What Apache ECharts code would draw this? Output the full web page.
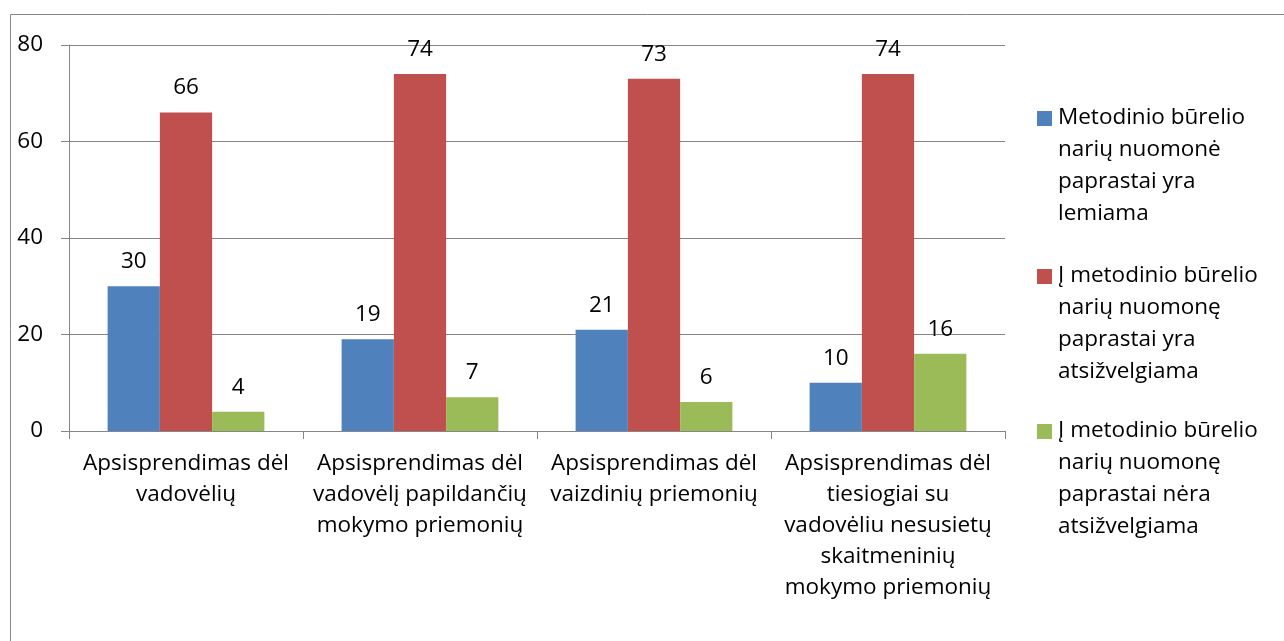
<!DOCTYPE html>
<html>
<head>
<meta charset="utf-8">
<title>Metodinio būrelio narių nuomonė</title>
<script src="https://cdn.jsdelivr.net/npm/echarts@6/dist/echarts.min.js"></script>
<style>
  html, body { margin: 0; padding: 0; background: #fff; }
  #chart { width: 1284px; height: 641px; }
</style>
</head>
<body>
<div id="chart"></div>
<script>
// kategorijos (x ašis)
const categories = [
  'Apsisprendimas dėl\nvadovėlių',
  'Apsisprendimas dėl\nvadovėlį papildančių\nmokymo priemonių',
  'Apsisprendimas dėl\nvaizdinių priemonių',
  'Apsisprendimas dėl\ntiesiogiai su\nvadovėliu nesusietų\nskaitmeninių\nmokymo priemonių'
]
// serijų pavadinimai
const seriesNames = [
  'Metodinio būrelio\nnarių nuomonė\npaprastai yra\nlemiama',
  'Į metodinio būrelio\nnarių nuomonę\npaprastai yra\natsižvelgiama',
  'Į metodinio būrelio\nnarių nuomonę\npaprastai nėra\natsižvelgiama'
]
const lemiama = [30, 19, 21, 10]
const atsizvelgiama = [66, 74, 73, 74]
const neraAtsizvelgiama = [4, 7, 6, 16]
// y ašies padalos
const yMin = 0
const yMax = 80
const yStep = 20

const colors = ['#4F81BD', '#C0504D', '#9BBB59']
const FONT = '"Open Sans", sans-serif'
const FS = 22.5
const GRAY = '#868686'

const chart = echarts.init(document.getElementById('chart'))

const labelOpt = {
  show: true,
  position: 'top',
  distance: 13,
  color: '#000',
  fontSize: FS,
  fontFamily: FONT
}

// legenda piešiama ranka, nes ikonėlė turi būti prie pirmos eilutės
const legendTop = [118, 276, 431]
const legendGraphics = []
seriesNames.forEach((name, i) => {
  legendGraphics.push({
    type: 'rect',
    left: 1037,
    top: legendTop[i] - 7,
    shape: { width: 15, height: 15 },
    style: { fill: colors[i] }
  })
  legendGraphics.push({
    type: 'text',
    left: 1058,
    top: legendTop[i] - 16,
    style: {
      text: name,
      fill: '#000',
      fontSize: FS,
      fontFamily: FONT,
      lineHeight: 32
    }
  })
})

const option = {
  animation: false,
  color: colors,
  textStyle: { fontFamily: FONT },
  grid: {
    left: 69,
    right: 279,
    top: 45,
    bottom: 210,
    containLabel: false
  },
  xAxis: {
    type: 'category',
    data: categories,
    axisLine: { lineStyle: { color: GRAY, width: 1 } },
    axisTick: { show: true, length: 8, lineStyle: { color: GRAY } },
    axisLabel: {
      color: '#000',
      fontSize: FS,
      fontFamily: FONT,
      lineHeight: 31,
      margin: 17,
      interval: 0
    }
  },
  yAxis: {
    type: 'value',
    min: yMin,
    max: yMax,
    interval: yStep,
    axisLine: { show: true, lineStyle: { color: GRAY, width: 1 } },
    axisTick: { show: true, length: 8, lineStyle: { color: GRAY } },
    splitLine: { show: true, lineStyle: { color: GRAY, width: 1 } },
    axisLabel: {
      color: '#000',
      fontSize: FS,
      fontFamily: FONT,
      margin: 26
    }
  },
  series: [
    { name: seriesNames[0], type: 'bar', data: lemiama, barGap: 0, barCategoryGap: '33%', label: labelOpt },
    { name: seriesNames[1], type: 'bar', data: atsizvelgiama, barGap: 0, barCategoryGap: '33%', label: labelOpt },
    { name: seriesNames[2], type: 'bar', data: neraAtsizvelgiama, barGap: 0, barCategoryGap: '33%', label: labelOpt }
  ],
  graphic: [
    // rėmelis aplink diagramą
    {
      type: 'rect',
      left: 8,
      top: 12,
      silent: true,
      shape: { x: 0.5, y: 0.5, width: 1400, height: 1000 },
      style: { fill: 'none', stroke: GRAY, lineWidth: 1 }
    }
  ].concat(legendGraphics)
}

chart.setOption(option)
</script>
</body>
</html>
